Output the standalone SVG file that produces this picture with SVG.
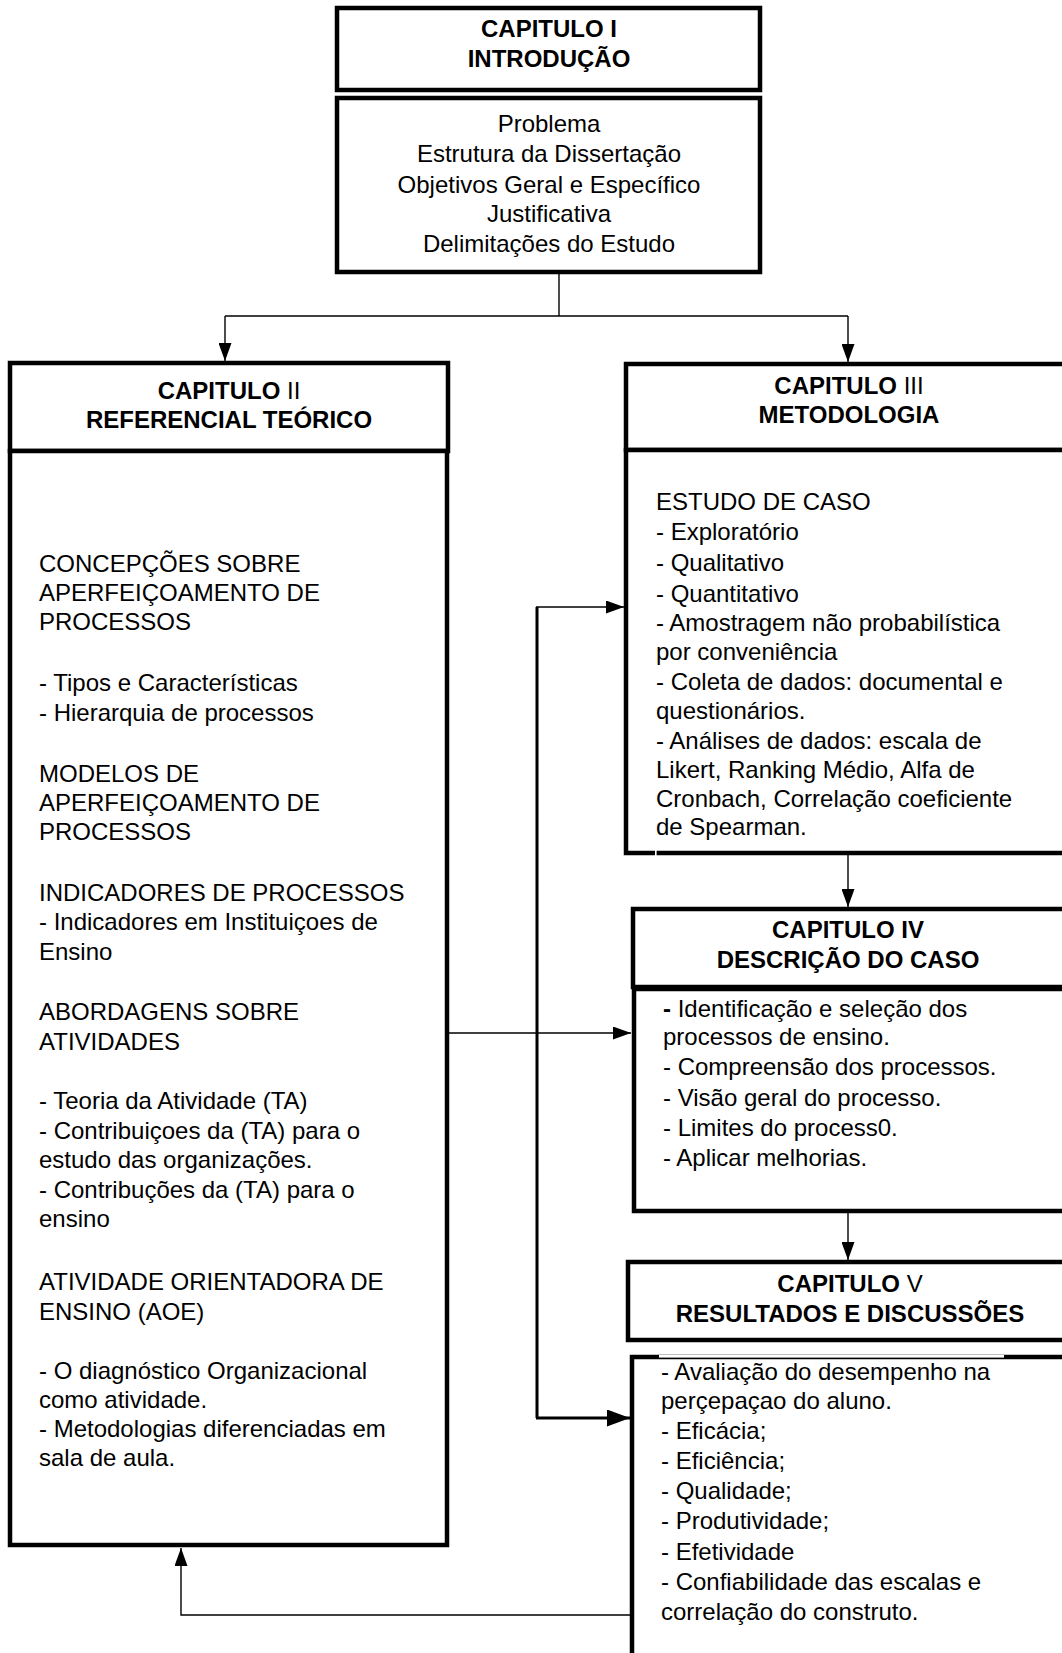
<svg xmlns="http://www.w3.org/2000/svg" width="1062" height="1653" viewBox="0 0 1062 1653">
  <style>
    text { font-family: "Liberation Sans", Arial, sans-serif; font-size: 24px; fill: #000; }
    .h { font-weight: bold; text-anchor: middle; }
    .c { text-anchor: middle; }
    .r { font-weight: normal; }
    .box { fill: #fff; stroke: #000; stroke-width: 4.5; }
    .ln { fill: none; stroke: #000; stroke-width: 1.4; }
    .thk { fill: none; stroke: #000; stroke-width: 3; }
  </style>
  <defs>
    <marker id="ah" markerUnits="userSpaceOnUse" markerWidth="18" markerHeight="13" refX="18" refY="6.5" orient="auto">
      <path d="M0,0 L18,6.5 L0,13 z" fill="#000"/>
    </marker>
    <marker id="ahBig" markerUnits="userSpaceOnUse" markerWidth="23" markerHeight="17" refX="23" refY="8.5" orient="auto">
      <path d="M0,0 L23,8.5 L0,17 z" fill="#000"/>
    </marker>
  </defs>

  <rect width="1062" height="1653" fill="#fff"/>

  <!-- connectors -->
  <g id="connectors">
    <path class="ln" d="M559,272 V316"/>
    <path class="ln" d="M225,316 H848"/>
    <path class="ln" d="M225,316 V361" marker-end="url(#ah)"/>
    <path class="ln" d="M848,316 V362" marker-end="url(#ah)"/>
    <path class="ln" d="M848,855 V907" marker-end="url(#ah)"/>
    <path class="ln" d="M848,1213 V1260" marker-end="url(#ah)"/>
    <path class="ln" d="M449,1033 H631" marker-end="url(#ah)"/>
    <path class="thk" d="M537,1418 V607"/>
    <path class="ln" d="M536,607 H624" marker-end="url(#ah)"/>
    <path class="thk" d="M536,1418 H630" marker-end="url(#ahBig)"/>
    <path class="ln" d="M630,1615 H181 V1548" marker-end="url(#ah)"/>
  </g>

  <!-- Capitulo I -->
  <g id="cap1">
    <rect class="box" x="337" y="8" width="423" height="82"/>
    <text class="h" x="549" y="37">CAPITULO I</text>
    <text class="h" x="549" y="67">INTRODUÇÃO</text>
  </g>
  <g id="cap1-conteudo">
    <rect class="box" x="337" y="98" width="423" height="174"/>
    <text class="c" x="549" y="132">Problema</text>
    <text class="c" x="549" y="162">Estrutura da Dissertação</text>
    <text class="c" x="549" y="193">Objetivos Geral e Específico</text>
    <text class="c" x="549" y="222">Justificativa</text>
    <text class="c" x="549" y="252">Delimitações do Estudo</text>
  </g>

  <!-- Capitulo II -->
  <g id="cap2">
    <rect class="box" x="10" y="363" width="438" height="88"/>
    <text class="h" x="229" y="399">CAPITULO <tspan class="r">II</tspan></text>
    <text class="h" x="229" y="428">REFERENCIAL TEÓRICO</text>
  </g>
  <g id="cap2-conteudo">
    <rect class="box" x="10" y="451" width="437" height="1094"/>
    <text x="39" y="572">CONCEPÇÕES SOBRE</text>
    <text x="39" y="601">APERFEIÇOAMENTO DE</text>
    <text x="39" y="630">PROCESSOS</text>
    <text x="39" y="690.5">- Tipos e Características</text>
    <text x="39" y="721">- Hierarquia de processos</text>
    <text x="39" y="781.5">MODELOS DE</text>
    <text x="39" y="810.5">APERFEIÇOAMENTO DE</text>
    <text x="39" y="840">PROCESSOS</text>
    <text x="39" y="900.5">INDICADORES DE PROCESSOS</text>
    <text x="39" y="930">- Indicadores em Instituiçoes de</text>
    <text x="39" y="959.5">Ensino</text>
    <text x="39" y="1020">ABORDAGENS SOBRE</text>
    <text x="39" y="1049.5">ATIVIDADES</text>
    <text x="39" y="1109">- Teoria da Atividade (TA)</text>
    <text x="39" y="1139">- Contribuiçoes da (TA) para o</text>
    <text x="39" y="1168">estudo das organizações.</text>
    <text x="39" y="1197.5">- Contribuções da (TA) para o</text>
    <text x="39" y="1227">ensino</text>
    <text x="39" y="1290">ATIVIDADE ORIENTADORA DE</text>
    <text x="39" y="1320">ENSINO (AOE)</text>
    <text x="39" y="1379">- O diagnóstico Organizacional</text>
    <text x="39" y="1407.5">como atividade.</text>
    <text x="39" y="1437">- Metodologias diferenciadas em</text>
    <text x="39" y="1466">sala de aula.</text>
  </g>

  <!-- Capitulo III -->
  <g id="cap3">
    <rect class="box" x="626" y="364" width="460" height="86"/>
    <text class="h" x="849" y="394">CAPITULO <tspan class="r">III</tspan></text>
    <text class="h" x="849" y="423">METODOLOGIA</text>
  </g>
  <g id="cap3-conteudo">
    <rect class="box" x="626" y="450" width="460" height="403"/>
    <rect x="655" y="849" width="1.6" height="8" fill="#fff"/>
    <text x="656" y="510">ESTUDO DE CASO</text>
    <text x="656" y="540">- Exploratório</text>
    <text x="656" y="571">- Qualitativo</text>
    <text x="656" y="602">- Quantitativo</text>
    <text x="656" y="631">- Amostragem não probabilística</text>
    <text x="656" y="660">por conveniência</text>
    <text x="656" y="690">- Coleta de dados: documental e</text>
    <text x="656" y="719">questionários.</text>
    <text x="656" y="749">- Análises de dados: escala de</text>
    <text x="656" y="778">Likert, Ranking Médio, Alfa de</text>
    <text x="656" y="807">Cronbach, Correlação coeficiente</text>
    <text x="656" y="835">de Spearman.</text>
  </g>

  <!-- Capitulo IV -->
  <g id="cap4">
    <rect class="box" x="633" y="909" width="460" height="78"/>
    <text class="h" x="848" y="938">CAPITULO IV</text>
    <text class="h" x="848" y="968">DESCRIÇÃO DO CASO</text>
  </g>
  <g id="cap4-conteudo">
    <rect class="box" x="634" y="989" width="460" height="222"/>
    <text x="663" y="1017"><tspan font-weight="bold">-</tspan> Identificação e seleção dos</text>
    <text x="663" y="1045">processos de ensino.</text>
    <text x="663" y="1075">- Compreensão dos processos.</text>
    <text x="663" y="1106">- Visão geral do processo.</text>
    <text x="663" y="1136">- Limites do process0.</text>
    <text x="663" y="1166">- Aplicar melhorias.</text>
  </g>

  <!-- Capitulo V -->
  <g id="cap5">
    <rect class="box" x="628" y="1262" width="460" height="78"/>
    <text class="h" x="850" y="1292">CAPITULO <tspan class="r">V</tspan></text>
    <text class="h" x="850" y="1322">RESULTADOS E DISCUSSÕES</text>
  </g>
  <g id="cap5-conteudo">
    <rect class="box" x="632" y="1357" width="460" height="320"/>
    <rect x="659" y="1355" width="345" height="2.6" fill="#fff"/>
    <text x="661" y="1380">- Avaliação do desempenho na</text>
    <text x="661" y="1409">perçepaçao do aluno.</text>
    <text x="661" y="1439">- Eficácia;</text>
    <text x="661" y="1469">- Eficiência;</text>
    <text x="661" y="1499">- Qualidade;</text>
    <text x="661" y="1529">- Produtividade;</text>
    <text x="661" y="1560">- Efetividade</text>
    <text x="661" y="1590">- Confiabilidade das escalas e</text>
    <text x="661" y="1620">correlação do construto.</text>
  </g>
</svg>
